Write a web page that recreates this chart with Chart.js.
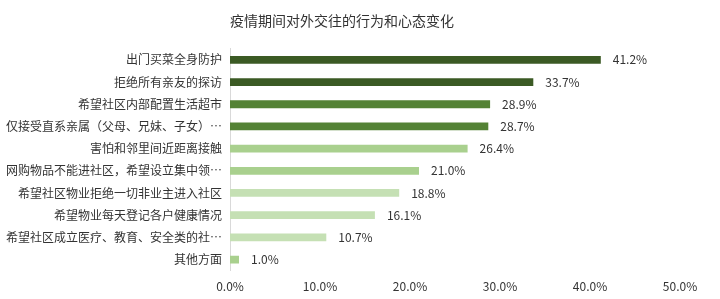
<!DOCTYPE html>
<html><head><meta charset="utf-8">
<script src="https://cdn.jsdelivr.net/npm/chart.js@4"></script>
<style>html,body{margin:0;padding:0;background:#fff}#wrap{width:720px;height:299px}</style>
</head><body><div id="wrap"><canvas id="c"></canvas></div>
<script>
const categories = [
  "出门买菜全身防护",
  "拒绝所有亲友的探访",
  "希望社区内部配置生活超市",
  "仅接受直系亲属（父母、兄妹、子女）…",
  "害怕和邻里间近距离接触",
  "网购物品不能进社区，希望设立集中领…",
  "希望社区物业拒绝一切非业主进入社区",
  "希望物业每天登记各户健康情况",
  "希望社区成立医疗、教育、安全类的社…",
  "其他方面"
];
const values = [41.2, 33.7, 28.9, 28.7, 26.4, 21.0, 18.8, 16.1, 10.7, 1.0];
const barColors = ["#3b5a24","#3b5a24","#548235","#548235","#a9d08e","#a9d08e","#c5e0b4","#c5e0b4","#c5e0b4","#a9d08e"];
const xTicks = [0, 10, 20, 30, 40, 50];
const FONT = "'Noto Sans CJK SC', 'Noto Sans', sans-serif";

const labelPlugin = {
  id: 'valLabels',
  afterDatasetsDraw(chart) {
    const ctx = chart.ctx;
    const meta = chart.getDatasetMeta(0);
    ctx.save();
    ctx.font = "12px " + FONT;
    ctx.fillStyle = "#333";
    ctx.textAlign = "left";
    ctx.textBaseline = "middle";
    meta.data.forEach((el, i) => {
      ctx.fillText(values[i].toFixed(1) + "%", el.x + 12, el.y);
    });
    ctx.restore();
  }
};

new Chart(document.getElementById('c'), {
  type: 'bar',
  data: { labels: categories, datasets: [{ data: values, backgroundColor: barColors, barPercentage: 0.7, categoryPercentage: 0.5 }] },
  options: {
    indexAxis: 'y', responsive: true, maintainAspectRatio: false, animation: false,
    layout: { padding: { left: 4, right: 40, top: 0, bottom: 0 } },
    plugins: {
      legend: { display: false }, tooltip: { enabled: false },
      title: { display: true, text: "疫情期间对外交往的行为和心态变化", color: "#333",
        font: { family: FONT, size: 14, weight: 'normal' }, padding: { top: 12, bottom: 20 } }
    },
    scales: {
      x: { min: 0, max: 50, afterBuildTicks: s => { s.ticks = xTicks.map(v => ({ value: v })); },
        afterFit: s => { s.height -= 4; },
        grid: { display: false, drawTicks: false }, border: { display: false },
        ticks: { color: "#333", padding: 9, font: { family: FONT, size: 12 }, callback: v => v.toFixed(1) + "%" } },
      y: { grid: { display: false, drawTicks: false }, border: { display: true, color: "#d9d9d9", width: 1 },
        afterFit: s => { s.width = 226; },
        ticks: { color: "#333", padding: 8, autoSkip: false, font: { family: FONT, size: 12 } } }
    }
  },
  plugins: [labelPlugin]
});
</script></body></html>
